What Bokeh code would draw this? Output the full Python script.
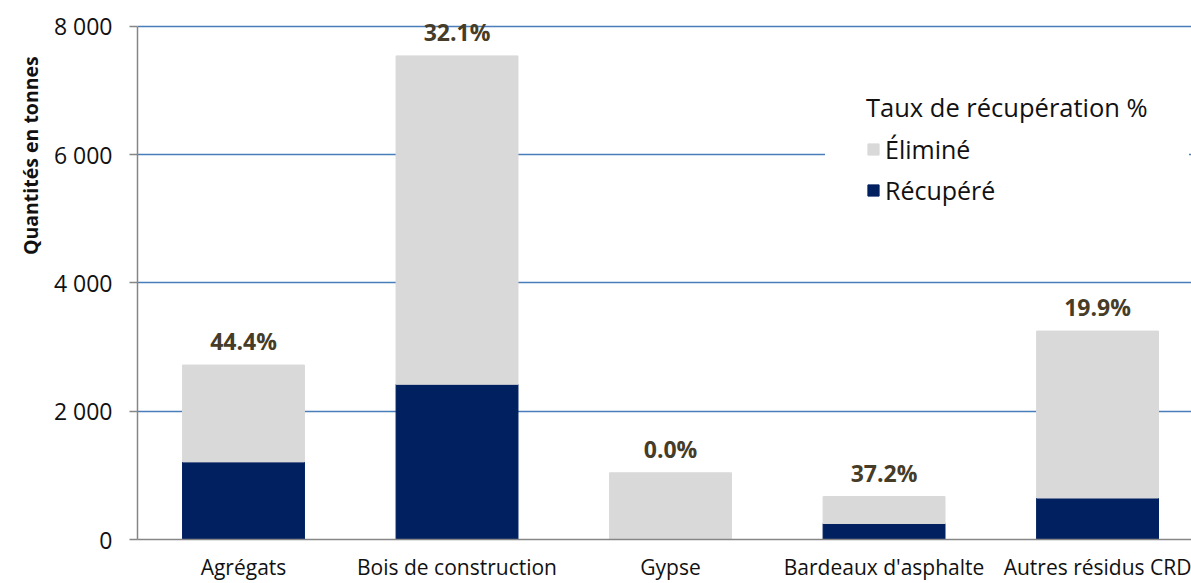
import math
from bokeh.plotting import figure
from bokeh.models import (ColumnDataSource, FixedTicker, Range1d, LabelSet,
                          Legend, LegendItem)
from bokeh.embed import file_html
from bokeh.resources import INLINE
from bokeh.core.properties import value

# ---- data ----
categories = ["Agrégats", "Bois de construction", "Gypse", "Bardeaux d'asphalte", "Autres résidus CRD"]
recupere = [1210, 2420, 0, 249, 647]
elimine = [1510, 5120, 1040, 421, 2603]
taux = [44.4, 32.1, 0.0, 37.2, 19.9]
y_ticks = [0, 2000, 4000, 6000, 8000]
y_tick_labels = ["0", "2 000", "4 000", "6 000", "8 000"]
series_names = ["Récupéré", "Éliminé"]
legend_title = "Taux de récupération %"
y_title = "Quantités en tonnes"

FONT = "Open Sans"
TXT = "#111111"

xs = list(range(len(categories)))
totals = [r + e for r, e in zip(recupere, elimine)]
source = ColumnDataSource(dict(
    x=xs, rec=recupere, eli=elimine, total=totals,
    label=[f"{t:.1f}%" for t in taux],
))

p = figure(width=1191, height=583,
           x_range=Range1d(-0.4965, 4.44), y_range=Range1d(0, 8404),
           output_backend="svg", toolbar_location=None,
           min_border_left=137, min_border_right=0,
           min_border_top=0, min_border_bottom=42)
p.outline_line_color = None
p.background_fill_color = "white"
p.border_fill_color = "white"

rs = p.vbar_stack(["rec", "eli"], x="x", width=0.571,
                  color=["#002060", "#D9D9D9"], source=source)

# grid
p.xgrid.grid_line_color = None
p.ygrid.grid_line_color = "#4A7EBB"
p.ygrid.grid_line_width = 1.3
p.ygrid.ticker = FixedTicker(ticks=y_ticks)

# y axis
ya = p.yaxis[0]
ya.ticker = FixedTicker(ticks=y_ticks)
ya.bounds = (y_ticks[0], y_ticks[-1])
ya.major_label_overrides = {t: l for t, l in zip(y_ticks, y_tick_labels)}
ya.axis_line_color = "#868686"
ya.axis_line_width = 1.5
ya.major_tick_line_color = "#868686"
ya.major_tick_line_width = 1.5
ya.major_tick_out = 8
ya.major_tick_in = 0
ya.minor_tick_line_color = None
ya.major_label_standoff = 17
ya.major_label_text_font = FONT
ya.major_label_text_font_size = "23px"
ya.major_label_text_color = TXT
# trailing no-break spaces push the top-aligned title down to its place
ya.axis_label = y_title + "\u00a0" * 11
ya.axis_label_standoff = 20
ya.axis_label_text_font = FONT
ya.axis_label_text_font_style = "bold"
ya.axis_label_text_font_size = "19.5px"
ya.axis_label_text_color = TXT
ya.axis_label_align = "end"
if "axis_label_orientation" in ya.properties():
    ya.axis_label_orientation = math.pi / 2

# x axis
xa = p.xaxis[0]
xa.ticker = FixedTicker(ticks=xs)
xa.major_label_overrides = {i: c for i, c in zip(xs, categories)}
xa.axis_line_color = "#868686"
xa.axis_line_width = 1.5
xa.major_tick_line_color = None
xa.major_tick_out = 0
xa.major_tick_in = 0
xa.minor_tick_line_color = None
xa.major_label_standoff = 13
xa.major_label_text_font = FONT
xa.major_label_text_font_size = "21px"
xa.major_label_text_color = TXT

# data labels
labels = LabelSet(x="x", y="total", text="label", source=source,
                  text_align="center", text_baseline="middle", y_offset=24,
                  text_font=value(FONT), text_font_style="bold",
                  text_font_size="23px", text_color="#463C27")
p.add_layout(labels)

# legend
legend = Legend(items=[LegendItem(label=series_names[1], renderers=[rs[1]]),
                       LegendItem(label=series_names[0], renderers=[rs[0]])],
                title=legend_title, location=(688, 291), padding=40,
                glyph_width=14, glyph_height=14, label_standoff=5, spacing=7,
                title_standoff=8,
                title_text_font=FONT, title_text_font_style="normal",
                title_text_font_size="25.5px", title_text_color=TXT,
                label_text_font=FONT, label_text_font_size="25px",
                label_text_color=TXT,
                background_fill_color="white", background_fill_alpha=1.0,
                border_line_color="white", border_line_width=1)
p.add_layout(legend)

open("out.html", "w").write(file_html(p, INLINE))
